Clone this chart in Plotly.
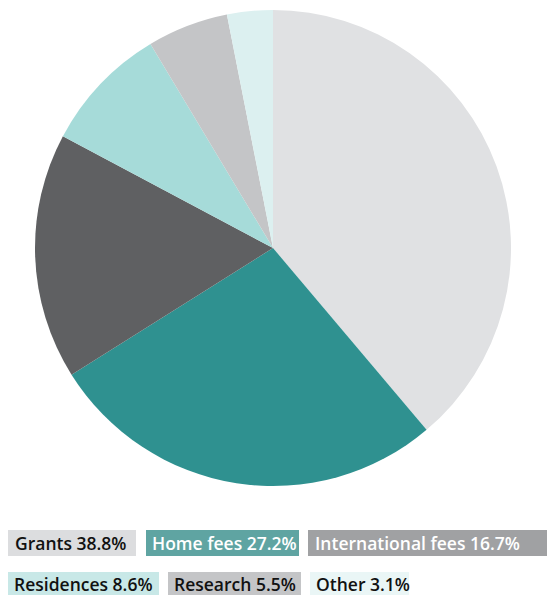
import plotly.graph_objects as go

labels = ["Grants", "Home fees", "International fees", "Residences", "Research", "Other"]
values = [38.8, 27.2, 16.7, 8.6, 5.5, 3.1]
pie_colors = ["#e0e1e3", "#2f9190", "#5f6062", "#a6dbd9", "#c4c5c7", "#dcf0f0"]
legend_bg = ["#dcdddf", "#5fa4a2", "#a0a1a3", "#c8e8e7", "#c4c5c7", "#eaf6f6"]
legend_fg = ["#111111", "#ffffff", "#ffffff", "#111111", "#111111", "#111111"]

W, H = 547, 595

fig = go.Figure(go.Pie(
    labels=labels, values=values, sort=False, direction="clockwise", rotation=0,
    marker=dict(colors=pie_colors, line=dict(width=0)),
    textinfo="none", hoverinfo="label+percent", showlegend=False,
    domain=dict(x=[35 / W, 511 / W], y=[1 - 486 / H, 1 - 10 / H]),
))

# legend box layout (pixels): left, right, top, bottom, text-left, text-center-y
boxes = [
    (8, 136, 530, 556, 14, 543),
    (146, 299, 530, 556, 151, 543),
    (308, 547, 530, 556, 314, 543),
    (8, 159, 572, 598, 13, 584),
    (168, 301, 572, 598, 173, 584),
    (310, 409, 572, 598, 315, 584),
]
shapes = []
annotations = []
for i, (l, r, t, b, tx, ty) in enumerate(boxes):
    shapes.append(dict(type="rect", xref="paper", yref="paper",
                       x0=l / W, x1=r / W, y0=1 - b / H, y1=1 - t / H,
                       fillcolor=legend_bg[i], line=dict(width=0), layer="below"))
    annotations.append(dict(
        xref="paper", yref="paper", x=tx / W, y=1 - ty / H,
        xanchor="left", yanchor="middle", showarrow=False, borderpad=0,
        text=f"{labels[i]} {values[i]}%",
        font=dict(family="Open Sans", size=17.5, weight=600, color=legend_fg[i]),
    ))

fig.update_layout(
    width=W, height=H, margin=dict(l=0, r=0, t=0, b=0),
    paper_bgcolor="white", plot_bgcolor="white",
    shapes=shapes, annotations=annotations,
)
fig.write_html("out.html")
